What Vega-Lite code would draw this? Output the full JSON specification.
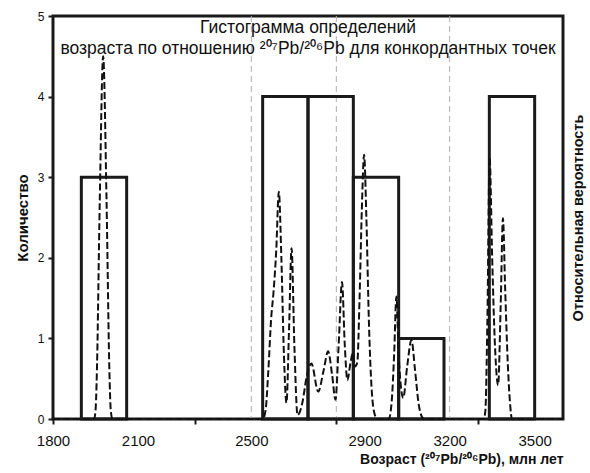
{
  "$schema": "https://vega.github.io/schema/vega-lite/v6.json",
  "width": 510,
  "height": 403,
  "autosize": {"type": "none"},
  "padding": {"left": 53, "top": 16, "right": 27, "bottom": 54},
  "background": "white",
  "title": {
    "text": ["Гистограмма определений", "возраста по отношению ²⁰⁷Pb/²⁰⁶Pb для конкордантных точек"],
    "font": "Liberation Sans",
    "fontSize": 17.5,
    "fontWeight": "normal",
    "color": "#111",
    "anchor": "middle",
    "frame": "group",
    "baseline": "top",
    "lineHeight": 21,
    "offset": -47
  },
  "datasets": {
    "bins": [
      {"start": 1900, "end": 2060, "count": 3},
      {"start": 2540, "end": 2700, "count": 4},
      {"start": 2700, "end": 2860, "count": 4},
      {"start": 2860, "end": 3020, "count": 3},
      {"start": 3020, "end": 3180, "count": 1},
      {"start": 3340, "end": 3500, "count": 4}
    ],
    "guides": [{"age": 2500}, {"age": 2800}, {"age": 3200}],
    "density": [
      {"age": 1800, "p": 0},
      {"age": 1945, "p": 0},
      {"age": 1950, "p": 0.1},
      {"age": 1955, "p": 0.6},
      {"age": 1965, "p": 2.7},
      {"age": 1977, "p": 4.5},
      {"age": 1989, "p": 2.7},
      {"age": 1999, "p": 0.6},
      {"age": 2004, "p": 0.1},
      {"age": 2010, "p": 0},
      {"age": 2540, "p": 0},
      {"age": 2550, "p": 0.1},
      {"age": 2560, "p": 0.6},
      {"age": 2570, "p": 1.25},
      {"age": 2578, "p": 1.56},
      {"age": 2588, "p": 2.1},
      {"age": 2597, "p": 2.82},
      {"age": 2606, "p": 2.0},
      {"age": 2615, "p": 0.8},
      {"age": 2624, "p": 0.2},
      {"age": 2633, "p": 1.1},
      {"age": 2642, "p": 2.12},
      {"age": 2652, "p": 0.9},
      {"age": 2663, "p": 0.05},
      {"age": 2680, "p": 0.2},
      {"age": 2695, "p": 0.52},
      {"age": 2712, "p": 0.69},
      {"age": 2736, "p": 0.34},
      {"age": 2755, "p": 0.6},
      {"age": 2771, "p": 0.84},
      {"age": 2785, "p": 0.55},
      {"age": 2797, "p": 0.24},
      {"age": 2808, "p": 0.9},
      {"age": 2820, "p": 1.7},
      {"age": 2830, "p": 0.9},
      {"age": 2839, "p": 0.48},
      {"age": 2850, "p": 0.7},
      {"age": 2859, "p": 0.82},
      {"age": 2866, "p": 0.65},
      {"age": 2874, "p": 0.7},
      {"age": 2882, "p": 1.5},
      {"age": 2890, "p": 2.6},
      {"age": 2898, "p": 3.28},
      {"age": 2906, "p": 2.5},
      {"age": 2915, "p": 1.2},
      {"age": 2925, "p": 0.35},
      {"age": 2936, "p": 0.05},
      {"age": 2945, "p": 0},
      {"age": 2985, "p": 0},
      {"age": 2995, "p": 0.2},
      {"age": 3004, "p": 0.8},
      {"age": 3012, "p": 1.52},
      {"age": 3020, "p": 0.8},
      {"age": 3036, "p": 0.26},
      {"age": 3050, "p": 0.65},
      {"age": 3065, "p": 0.98},
      {"age": 3078, "p": 0.6},
      {"age": 3090, "p": 0.2},
      {"age": 3103, "p": 0.02},
      {"age": 3110, "p": 0},
      {"age": 3320, "p": 0},
      {"age": 3326, "p": 0.1},
      {"age": 3333, "p": 1.2},
      {"age": 3341, "p": 3.25},
      {"age": 3350, "p": 2.0},
      {"age": 3360, "p": 0.9},
      {"age": 3371, "p": 0.42},
      {"age": 3380, "p": 1.4},
      {"age": 3388, "p": 2.49},
      {"age": 3396, "p": 1.6},
      {"age": 3405, "p": 0.7},
      {"age": 3413, "p": 0.2},
      {"age": 3420, "p": 0},
      {"age": 3600, "p": 0}
    ]
  },
  "layer": [
    {
      "data": {"name": "guides"},
      "mark": {"type": "rule", "color": "#b0b0b0", "strokeWidth": 1, "strokeDash": [6, 4]},
      "encoding": {
        "x": {"field": "age", "type": "quantitative", "scale": {"domain": [1800, 3600], "nice": false, "zero": false}}
      }
    },
    {
      "data": {"name": "bins"},
      "mark": {"type": "rect", "fill": "transparent", "stroke": "#1a1a1a", "strokeWidth": 3},
      "encoding": {
        "x": {
          "field": "start", "type": "quantitative",
          "scale": {"domain": [1800, 3600], "nice": false, "zero": false},
          "axis": {
            "values": [1800, 2100, 2300, 2500, 2800, 2900, 3200, 3300, 3500],
            "format": "d",
            "labelExpr": "indexof([1800,2100,2500,2900,3200,3500], datum.value) >= 0 ? datum.label : ''",
            "labelOverlap": false,
            "labelFlush": false,
            "labelFont": "Liberation Sans",
            "labelFontSize": 15,
            "labelColor": "#111",
            "labelPadding": 9,
            "tickSize": 5,
            "tickWidth": 2,
            "tickColor": {"condition": {"test": "indexof([1800,2300,2800,3300], datum.value) >= 0", "value": "#1a1a1a"}, "value": "transparent"},
            "domain": false,
            "grid": false,
            "title": "Возраст (²⁰⁷Pb/²⁰⁶Pb), млн лет",
            "titleFont": "Liberation Sans",
            "titleFontSize": 14,
            "titleFontWeight": "bold",
            "titleColor": "#111",
            "titleAnchor": "end",
            "titlePadding": 4
          }
        },
        "x2": {"field": "end"},
        "y": {
          "field": "count", "type": "quantitative",
          "scale": {"domain": [0, 5], "nice": false},
          "axis": {
            "values": [0, 1, 2, 3, 4, 5],
            "labelFont": "Liberation Sans",
            "labelFontSize": 12,
            "labelColor": "#111",
            "labelPadding": 4,
            "tickSize": 5,
            "tickWidth": 2,
            "tickColor": "#1a1a1a",
            "domain": false,
            "grid": false,
            "title": "Количество",
            "titleFont": "Liberation Sans",
            "titleFontSize": 15,
            "titleFontWeight": "bold",
            "titleColor": "#111",
            "titlePadding": 7
          }
        },
        "y2": {"datum": 0}
      }
    },
    {
      "data": {"name": "density"},
      "mark": {"type": "line", "color": "#111", "strokeWidth": 2, "strokeDash": [7, 3], "interpolate": "monotone"},
      "encoding": {
        "x": {"field": "age", "type": "quantitative", "scale": {"domain": [1800, 3600], "nice": false, "zero": false}},
        "y": {
          "field": "p", "type": "quantitative",
          "scale": {"domain": [0, 5], "nice": false},
          "axis": {
            "orient": "right",
            "labels": false,
            "ticks": false,
            "domain": false,
            "grid": false,
            "title": "Относительная вероятность",
            "titleFont": "Liberation Sans",
            "titleFontSize": 14.5,
            "titleFontWeight": "bold",
            "titleColor": "#111",
            "titleAngle": 270,
            "titlePadding": 22
          }
        }
      }
    }
  ],
  "resolve": {"scale": {"y": "independent"}},
  "config": {
    "view": {"stroke": "#1a1a1a", "strokeWidth": 3}
  }
}
